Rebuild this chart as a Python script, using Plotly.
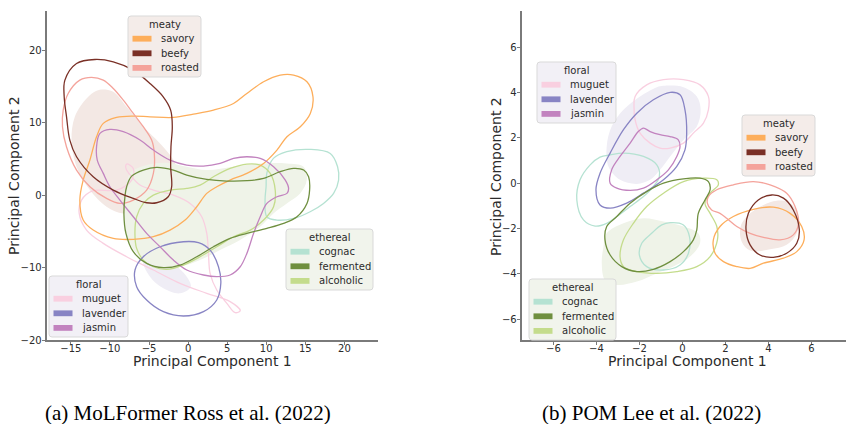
import plotly.graph_objects as go

# ---------------- colours ----------------
C_SAVORY = "#fdae5b"
C_BEEFY = "#7a3026"
C_ROASTED = "#f4a39b"
C_MUGUET = "#f9cfe0"
C_LAVENDER = "#8884c4"
C_JASMIN = "#c283bf"
C_COGNAC = "#b5e2d2"
C_FERMENTED = "#6f8f3f"
C_ALCOHOLIC = "#c4dc8c"
F_MEATY = "#f3e8e4"
F_FLORAL = "#efedf5"
F_ETHEREAL = "#eff3e8"

# ---------------- (a) MoLFormer: contour outlines (PC1, PC2) ----------------
A_MEATY_FILL_X = [-10.85, -9.57, -7.86, -5.73, -3.59, -1.88, -1.24, -1.88, -4.02, -6.15, -8.29, -10.43, -12.56, -14.27, -14.91, -14.49, -12.99, -11.71]
A_MEATY_FILL_Y = [14.57, 14.25, 12.18, 9.43, 7.13, 4.83, 2.53, 0.69, -0.69, -2.07, -2.53, -1.61, 0.69, 3.91, 7.59, 10.80, 13.33, 14.39]
A_FLORAL_FILL_X = [-5.73, -4.02, -1.88, -0.17, 0.34, -1.03, -3.16, -4.87]
A_FLORAL_FILL_Y = [-8.97, -8.05, -9.43, -11.26, -12.64, -13.56, -12.87, -11.26]
A_ETHEREAL_FILL_X = [-7.45, -5.31, -2.75, -0.19, 2.38, 5.79, 9.21, 12.63, 14.77, 15.19, 14.34, 12.63, 10.92, 9.21, 6.65, 4.09, 1.52, -1.04, -3.61, -6.17, -7.66, -8.09, -7.88]
A_ETHEREAL_FILL_Y = [2.99, 4.14, 4.46, 3.91, 3.45, 3.91, 4.37, 4.37, 3.91, 2.07, 0.23, -1.15, -2.53, -4.37, -6.21, -7.59, -8.97, -9.89, -9.89, -8.51, -6.21, -2.99, 0.23]

A_SAVORY_X = [-13.85, -13.42, -12.56, -11.71, -10.85, -9.15, -7.01, -4.87, -1.88, 0.68, 3.25, 5.81, 7.52, 9.66, 11.79, 13.50, 15.21, 15.98, 15.64, 14.36, 12.65, 11.37, 9.66, 7.52, 5.38, 3.67, 2.39, 1.11, -0.38, -2.31, -4.44, -7.01, -9.57, -12.14, -13.42]
A_SAVORY_Y = [-0.69, 2.07, 4.83, 8.05, 9.89, 10.71, 10.90, 10.80, 10.71, 11.17, 11.72, 12.64, 14.02, 15.63, 16.55, 16.55, 15.63, 13.56, 11.26, 9.43, 8.05, 6.21, 4.37, 2.99, 2.07, 1.15, 0.23, -1.61, -3.45, -4.83, -5.75, -6.11, -5.98, -4.83, -3.45]
A_BEEFY_X = [-15.76, -14.27, -11.92, -9.57, -7.02, -4.88, -3.18, -2.23, -2.02, -2.19, -2.23, -2.10, -2.54, -4.02, -5.30, -7.01, -9.57, -12.14, -14.27, -15.13, -15.55, -15.85]
A_BEEFY_Y = [15.86, 18.16, 18.71, 18.39, 17.24, 15.40, 13.56, 11.72, 9.43, 6.67, 3.91, 1.15, -0.23, -1.06, -1.06, -0.46, 0.69, 2.53, 5.29, 7.59, 10.80, 13.56]
A_ROASTED_X = [-12.35, -13.85, -15.34, -15.98, -16.07, -15.56, -14.27, -12.56, -10.43, -8.72, -7.01, -5.30, -4.44, -4.32, -4.66, -5.73, -7.01, -8.29, -9.57, -10.85]
A_ROASTED_Y = [16.23, 15.86, 14.02, 11.72, 9.43, 6.67, 3.45, 1.15, -0.46, -1.15, -0.69, 0.69, 2.99, 5.75, 7.59, 9.43, 11.26, 13.10, 14.71, 15.86]
A_MUGUET_X = [-7.86, -7.01, -7.22, -9.15, -12.14, -13.63, -13.93, -12.99, -10.85, -7.86, -4.44, -1.03, 2.39, 5.38, 6.67, 6.03, 4.96, 3.67, 2.82, 2.61, 2.39, 1.75, 0.26, -1.88, -4.44, -6.15, -7.22, -7.95]
A_MUGUET_Y = [4.28, 3.68, 2.07, 0.69, 0.60, -0.69, -2.53, -4.83, -6.67, -8.51, -10.34, -12.18, -13.56, -14.71, -15.95, -16.23, -14.94, -13.10, -10.80, -8.05, -5.29, -2.99, -1.15, 0.00, 0.69, 1.38, 2.53, 3.68]
A_LAVENDER_X = [-0.60, -3.59, -5.73, -6.79, -6.58, -5.30, -3.16, -0.60, 1.97, 3.67, 4.19, 3.89, 2.82, 1.33]
A_LAVENDER_Y = [-6.44, -7.13, -8.51, -10.34, -12.64, -14.48, -16.09, -16.69, -16.09, -14.48, -12.18, -9.89, -7.59, -6.57]
A_JASMIN_X = [-11.71, -11.28, -10.00, -8.29, -6.15, -4.44, -2.31, -0.17, 1.97, 4.10, 5.81, 7.52, 9.23, 10.94, 12.44, 12.86, 12.65, 11.37, 10.08, 9.23, 8.38, 7.52, 6.67, 5.38, 3.67, 1.97, -0.17, -1.88, -3.59, -5.30, -7.01, -8.72, -10.00, -10.85, -11.62]
A_JASMIN_Y = [6.67, 8.51, 9.06, 8.74, 7.59, 6.21, 4.83, 4.14, 4.00, 4.37, 5.06, 5.29, 5.06, 3.91, 2.07, 0.92, 0.23, -0.23, -1.15, -2.99, -5.29, -8.05, -9.89, -11.03, -11.26, -11.03, -10.34, -8.97, -7.13, -5.29, -2.99, -0.69, 1.15, 2.99, 4.83]
A_COGNAC_X = [10.07, 10.92, 12.63, 15.62, 18.19, 19.13, 19.26, 18.62, 17.33, 15.62, 13.49, 11.35, 10.07, 9.85, 9.98]
A_COGNAC_Y = [2.99, 5.06, 5.98, 6.30, 5.75, 3.91, 2.07, 0.23, -1.15, -2.30, -3.22, -3.45, -2.99, -0.69, 1.15]
A_FERMENTED_X = [-7.86, -7.22, -5.73, -4.02, -1.88, -0.17, 2.39, 4.96, 7.52, 9.66, 11.79, 13.50, 14.79, 15.42, 15.55, 15.21, 13.93, 12.22, 10.08, 7.52, 5.38, 3.25, 1.11, -1.03, -3.16, -5.30, -7.01, -7.95, -8.21, -8.08]
A_FERMENTED_Y = [1.15, 2.62, 3.45, 3.82, 3.45, 2.76, 2.16, 1.93, 1.98, 2.30, 3.22, 3.68, 3.45, 2.53, 0.69, -1.15, -2.99, -3.91, -4.60, -5.29, -5.98, -7.13, -8.51, -9.66, -10.02, -9.43, -7.82, -5.29, -2.53, -0.23]
A_ALCOHOLIC_X = [-6.80, -6.58, -5.73, -4.44, -2.31, -0.17, 1.54, 3.25, 5.38, 7.52, 9.23, 10.51, 11.15, 10.94, 9.66, 7.95, 5.81, 3.67, 1.54, -0.60, -2.74, -4.44, -5.73, -6.58]
A_ALCOHOLIC_Y = [-5.29, -2.99, -1.15, 0.00, 0.69, 0.92, 1.38, 2.53, 3.68, 4.28, 4.14, 2.99, 0.69, -1.61, -3.45, -4.83, -5.75, -7.13, -8.51, -9.66, -10.25, -9.89, -8.97, -7.36]

# ---------------- (b) POM: contour outlines (PC1, PC2) ----------------
B_MEATY_FILL_X = [4.39, 5.01, 5.40, 5.32, 4.85, 4.08, 3.15, 2.76, 2.71, 3.15, 3.77]
B_MEATY_FILL_Y = [-0.77, -0.88, -1.47, -2.21, -2.72, -2.92, -2.97, -2.58, -1.91, -1.33, -0.96]
B_FLORAL_FILL_X = [-0.88, 0.05, 0.67, 0.85, 0.67, 0.05, -0.57, -1.04, -1.50, -2.12, -2.90, -3.44, -3.52, -3.29, -2.74, -1.97, -1.19]
B_FLORAL_FILL_Y = [4.30, 4.24, 3.83, 3.24, 2.50, 1.91, 1.18, 0.59, 0.15, -0.03, 0.15, 0.74, 1.62, 2.50, 3.24, 3.83, 4.24]
B_ETHEREAL_FILL_X = [-3.52, -2.74, -1.81, -0.88, 0.05, 0.74, 0.82, 0.36, -0.42, -1.19, -2.12, -3.05, -3.60, -3.75, -3.67]
B_ETHEREAL_FILL_Y = [-2.21, -1.77, -1.55, -1.69, -1.91, -2.21, -2.65, -3.24, -3.68, -3.98, -4.34, -4.49, -4.27, -3.53, -2.80]

B_SAVORY_X = [1.44, 1.75, 2.37, 3.30, 4.23, 5.01, 5.55, 5.66, 5.32, 4.70, 3.77, 3.15, 2.53, 1.91, 1.52]
B_SAVORY_Y = [-2.50, -1.91, -1.47, -1.15, -1.06, -1.33, -1.91, -2.50, -3.02, -3.31, -3.53, -3.76, -3.68, -3.46, -3.09]
B_BEEFY_X = [4.16, 4.70, 5.16, 5.44, 5.32, 4.85, 4.23, 3.61, 3.15, 2.96, 3.07, 3.53]
B_BEEFY_Y = [-0.52, -0.66, -1.18, -2.06, -2.65, -3.09, -3.27, -3.17, -2.72, -2.06, -1.33, -0.74]
B_ROASTED_X = [1.21, 1.60, 2.37, 3.30, 4.08, 4.85, 5.24, 5.40, 5.16, 4.54, 3.77, 3.15, 2.53, 2.06, 1.75, 1.36, 1.16]
B_ROASTED_Y = [-0.59, -0.29, -0.07, 0.07, -0.07, -0.44, -1.03, -1.77, -2.28, -2.50, -2.39, -2.21, -1.91, -1.55, -1.33, -1.18, -0.88]
B_MUGUET_X = [-2.20, -1.66, -0.88, 0.05, 0.82, 1.21, 1.21, 0.98, 0.51, 0.05, -0.57, -1.04, -1.50, -1.97, -2.20, -2.25]
B_MUGUET_Y = [3.83, 4.34, 4.57, 4.57, 4.34, 3.83, 3.24, 2.65, 2.21, 1.77, 1.55, 1.55, 1.77, 2.21, 2.80, 3.39]
B_LAVENDER_X = [-0.57, -0.11, 0.12, 0.20, 0.12, -0.26, -0.88, -1.81, -2.59, -3.36, -3.83, -4.02, -3.83, -3.36, -2.74, -2.12, -1.35]
B_LAVENDER_Y = [4.01, 3.90, 3.24, 2.21, 1.47, 0.74, 0.15, -0.44, -0.88, -1.10, -0.96, -0.29, 0.44, 1.33, 2.36, 3.09, 3.68]
B_JASMIN_X = [-1.81, -1.50, -1.04, -0.57, -0.19, -0.11, -0.26, -0.65, -1.19, -1.81, -2.43, -3.05, -3.36, -3.29, -2.90, -2.43, -2.05]
B_JASMIN_Y = [2.43, 2.28, 2.14, 2.06, 1.91, 1.62, 1.18, 0.59, 0.15, -0.22, -0.32, -0.22, 0.00, 0.59, 1.18, 1.77, 2.28]
B_COGNAC1_X = [-3.36, -2.74, -1.81, -1.19, -1.07, -1.35, -1.81, -2.43, -3.05, -3.52, -4.06, -4.60, -4.91, -4.76, -4.29, -3.83]
B_COGNAC1_Y = [1.25, 1.33, 1.18, 0.81, 0.29, -0.15, -0.59, -1.03, -1.47, -1.77, -1.89, -1.62, -0.74, 0.15, 0.81, 1.15]
B_COGNAC2_X = [-0.57, 0.05, 0.33, 0.28, -0.11, -0.88, -1.66, -2.00, -1.89, -1.43, -0.96]
B_COGNAC2_Y = [-1.74, -1.84, -2.36, -3.09, -3.61, -3.83, -3.68, -3.17, -2.65, -2.21, -1.84]
B_FERMENTED_X = [-3.05, -2.43, -1.66, -0.88, 0.05, 0.82, 1.21, 1.29, 1.05, 0.74, 0.67, 0.51, 0.05, -0.57, -1.35, -2.12, -2.82, -3.36, -3.60, -3.52]
B_FERMENTED_Y = [-1.47, -0.88, -0.37, 0.00, 0.19, 0.22, 0.07, -0.29, -0.74, -1.33, -2.06, -2.50, -3.02, -3.46, -3.80, -3.90, -3.68, -3.17, -2.50, -1.91]
B_ALCOHOLIC_X = [-2.90, -2.74, -2.28, -1.66, -0.88, 0.05, 0.98, 1.60, 1.67, 1.29, 1.05, 1.29, 1.60, 1.63, 1.29, 0.67, -0.26, -1.19, -2.12, -2.74]
B_ALCOHOLIC_Y = [-3.24, -2.50, -1.77, -1.03, -0.44, 0.07, 0.22, 0.15, -0.07, -0.44, -0.88, -1.33, -1.91, -2.50, -3.24, -3.68, -3.90, -3.98, -3.90, -3.68]

# ---------------- ticks / labels ----------------
A_XTICKS = [-15, -10, -5, 0, 5, 10, 15, 20]
A_YTICKS = [-20, -10, 0, 10, 20]
B_XTICKS = [-6, -4, -2, 0, 2, 4, 6]
B_YTICKS = [-6, -4, -2, 0, 2, 4, 6]
XLABEL = "Principal Component 1"
YLABEL = "Principal Component 2"
CAPTION_A = "(a) MoLFormer Ross et al. (2022)"
CAPTION_B = "(b) POM Lee et al. (2022)"
MEATY_LABELS = ["savory", "beefy", "roasted"]
FLORAL_LABELS = ["muguet", "lavender", "jasmin"]
ETHEREAL_LABELS = ["cognac", "fermented", "alcoholic"]

FONT = "DejaVu Sans"
TXT = "#2b2b2b"
W, H = 846, 424


def closed(xs, ys):
    return list(xs) + [xs[0]], list(ys) + [ys[0]]


fig = go.Figure()


def add_fill(xs, ys, color, xa, ya):
    cx, cy = closed(xs, ys)
    fig.add_trace(go.Scatter(x=cx, y=cy, mode="lines", fill="toself", fillcolor=color,
                             line=dict(width=0, shape="spline", smoothing=1.0, color=color),
                             xaxis=xa, yaxis=ya, showlegend=False, hoverinfo="skip"))


def add_line(xs, ys, color, xa, ya):
    cx, cy = closed(xs, ys)
    fig.add_trace(go.Scatter(x=cx, y=cy, mode="lines",
                             line=dict(width=1.3, shape="spline", smoothing=1.0, color=color),
                             xaxis=xa, yaxis=ya, showlegend=False, hoverinfo="skip"))


# panel (a)
add_fill(A_MEATY_FILL_X, A_MEATY_FILL_Y, F_MEATY, "x", "y")
add_fill(A_FLORAL_FILL_X, A_FLORAL_FILL_Y, F_FLORAL, "x", "y")
add_fill(A_ETHEREAL_FILL_X, A_ETHEREAL_FILL_Y, F_ETHEREAL, "x", "y")
for xs, ys, c in [(A_MUGUET_X, A_MUGUET_Y, C_MUGUET), (A_COGNAC_X, A_COGNAC_Y, C_COGNAC),
                  (A_ALCOHOLIC_X, A_ALCOHOLIC_Y, C_ALCOHOLIC), (A_SAVORY_X, A_SAVORY_Y, C_SAVORY),
                  (A_ROASTED_X, A_ROASTED_Y, C_ROASTED), (A_LAVENDER_X, A_LAVENDER_Y, C_LAVENDER),
                  (A_JASMIN_X, A_JASMIN_Y, C_JASMIN), (A_FERMENTED_X, A_FERMENTED_Y, C_FERMENTED),
                  (A_BEEFY_X, A_BEEFY_Y, C_BEEFY)]:
    add_line(xs, ys, c, "x", "y")

# panel (b)
add_fill(B_MEATY_FILL_X, B_MEATY_FILL_Y, F_MEATY, "x2", "y2")
add_fill(B_FLORAL_FILL_X, B_FLORAL_FILL_Y, F_FLORAL, "x2", "y2")
add_fill(B_ETHEREAL_FILL_X, B_ETHEREAL_FILL_Y, F_ETHEREAL, "x2", "y2")
for xs, ys, c in [(B_MUGUET_X, B_MUGUET_Y, C_MUGUET), (B_COGNAC1_X, B_COGNAC1_Y, C_COGNAC),
                  (B_COGNAC2_X, B_COGNAC2_Y, C_COGNAC), (B_ALCOHOLIC_X, B_ALCOHOLIC_Y, C_ALCOHOLIC),
                  (B_SAVORY_X, B_SAVORY_Y, C_SAVORY), (B_ROASTED_X, B_ROASTED_Y, C_ROASTED),
                  (B_LAVENDER_X, B_LAVENDER_Y, C_LAVENDER), (B_JASMIN_X, B_JASMIN_Y, C_JASMIN),
                  (B_FERMENTED_X, B_FERMENTED_Y, C_FERMENTED), (B_BEEFY_X, B_BEEFY_Y, C_BEEFY)]:
    add_line(xs, ys, c, "x2", "y2")

# ---------------- legend boxes (matplotlib-style, drawn in paper space) ----------------
GROUPS = {
    "meaty": list(zip(MEATY_LABELS, [C_SAVORY, C_BEEFY, C_ROASTED])),
    "floral": list(zip(FLORAL_LABELS, [C_MUGUET, C_LAVENDER, C_JASMIN])),
    "ethereal": list(zip(ETHEREAL_LABELS, [C_COGNAC, C_FERMENTED, C_ALCOHOLIC])),
}
LEGEND_BG = {"meaty": "#f4ece9", "floral": "#f2f0f6", "ethereal": "#f1f4ec"}
LEGEND_WIDTH = {"meaty": 73, "floral": 79, "ethereal": 87}
# (group, left px, top px)
LEGEND_POS = [
    ("meaty", 128, 16),
    ("floral", 49, 276),
    ("ethereal", 286, 229),
    ("floral", 537, 62),
    ("meaty", 742, 115),
    ("ethereal", 529, 279),
]

shapes = []
annotations = []


def px(x):
    return x / W


def py(y):
    return 1 - y / H


def rounded_path(x0, y0, x1, y1, r=3):
    pts = [
        f"M {px(x0 + r)},{py(y0)}", f"L {px(x1 - r)},{py(y0)}", f"Q {px(x1)},{py(y0)} {px(x1)},{py(y0 + r)}",
        f"L {px(x1)},{py(y1 - r)}", f"Q {px(x1)},{py(y1)} {px(x1 - r)},{py(y1)}",
        f"L {px(x0 + r)},{py(y1)}", f"Q {px(x0)},{py(y1)} {px(x0)},{py(y1 - r)}",
        f"L {px(x0)},{py(y0 + r)}", f"Q {px(x0)},{py(y0)} {px(x0 + r)},{py(y0)}", "Z",
    ]
    return " ".join(pts)


for grp, bx, by in LEGEND_POS:
    w = LEGEND_WIDTH[grp]
    shapes.append(dict(type="path", xref="paper", yref="paper", path=rounded_path(bx, by, bx + w, by + 61),
                       fillcolor=LEGEND_BG[grp], line=dict(color="#d9d9d9", width=1), layer="above"))
    annotations.append(dict(text=grp, x=px(bx + w / 2), y=py(by + 8.7), xref="paper", yref="paper",
                            showarrow=False, xanchor="center", yanchor="middle",
                            font=dict(family=FONT, size=10, color=TXT)))
    for i, (name, col) in enumerate(GROUPS[grp]):
        cy = by + 22.7 + 14.6 * i
        shapes.append(dict(type="rect", xref="paper", yref="paper",
                           x0=px(bx + 4.5), x1=px(bx + 23.5), y0=py(cy - 2.9), y1=py(cy + 2.9),
                           fillcolor=col, line=dict(width=0), layer="above"))
        annotations.append(dict(text=name, x=px(bx + 31), y=py(cy), xref="paper", yref="paper",
                                showarrow=False, xanchor="left", yanchor="middle",
                                font=dict(family=FONT, size=10, color=TXT)))

# axis titles & captions
TITLE_FONT = dict(family=FONT, size=14, color=TXT)
annotations += [
    dict(text=XLABEL, x=px(212.5), y=py(361), xref="paper", yref="paper", showarrow=False,
         xanchor="center", yanchor="middle", font=TITLE_FONT),
    dict(text=XLABEL, x=px(687.5), y=py(361), xref="paper", yref="paper", showarrow=False,
         xanchor="center", yanchor="middle", font=TITLE_FONT),
    dict(text=YLABEL, x=px(14), y=py(176), xref="paper", yref="paper", showarrow=False, textangle=-90,
         xanchor="center", yanchor="middle", font=TITLE_FONT),
    dict(text=YLABEL, x=px(496), y=py(176), xref="paper", yref="paper", showarrow=False, textangle=-90,
         xanchor="center", yanchor="middle", font=TITLE_FONT),
    dict(text=CAPTION_A, x=px(187.5), y=py(413), xref="paper", yref="paper", showarrow=False,
         xanchor="center", yanchor="middle", font=dict(family="Liberation Serif", size=21, color="black")),
    dict(text=CAPTION_B, x=px(651), y=py(413), xref="paper", yref="paper", showarrow=False,
         xanchor="center", yanchor="middle", font=dict(family="Liberation Serif", size=21, color="black")),
]

axis_common = dict(showgrid=False, zeroline=False, showline=True, linecolor="#7a7a7a", linewidth=1.6,
                   ticks="outside", ticklen=3.5, tickwidth=1, tickcolor="#7a7a7a",
                   tickfont=dict(family=FONT, size=10, color=TXT), mirror=False, automargin=False)

fig.update_layout(
    width=W, height=H,
    margin=dict(l=0, r=0, t=0, b=0, autoexpand=False),
    paper_bgcolor="white", plot_bgcolor="white",
    showlegend=False,
    font=dict(family=FONT, color=TXT),
    xaxis=dict(domain=[px(47), px(378)], range=[-18.05, 24.3], tickvals=A_XTICKS, anchor="y",
               ticklabelstandoff=-5, **axis_common),
    yaxis=dict(domain=[py(340), py(11)], range=[-20, 25.4], tickvals=A_YTICKS, anchor="x",
               ticklabelstandoff=-2, **axis_common),
    xaxis2=dict(domain=[px(522), 1.0], range=[-7.46, 7.61], tickvals=B_XTICKS, anchor="y2",
                ticklabelstandoff=-5, **axis_common),
    yaxis2=dict(domain=[py(340), py(11)], range=[-6.92, 7.6], tickvals=B_YTICKS, anchor="x2",
                ticklabelstandoff=-2, **axis_common),
    shapes=shapes,
    annotations=annotations,
)

fig.write_html("out.html", config={"displayModeBar": False},
               post_script="document.body.style.margin='0px';")
